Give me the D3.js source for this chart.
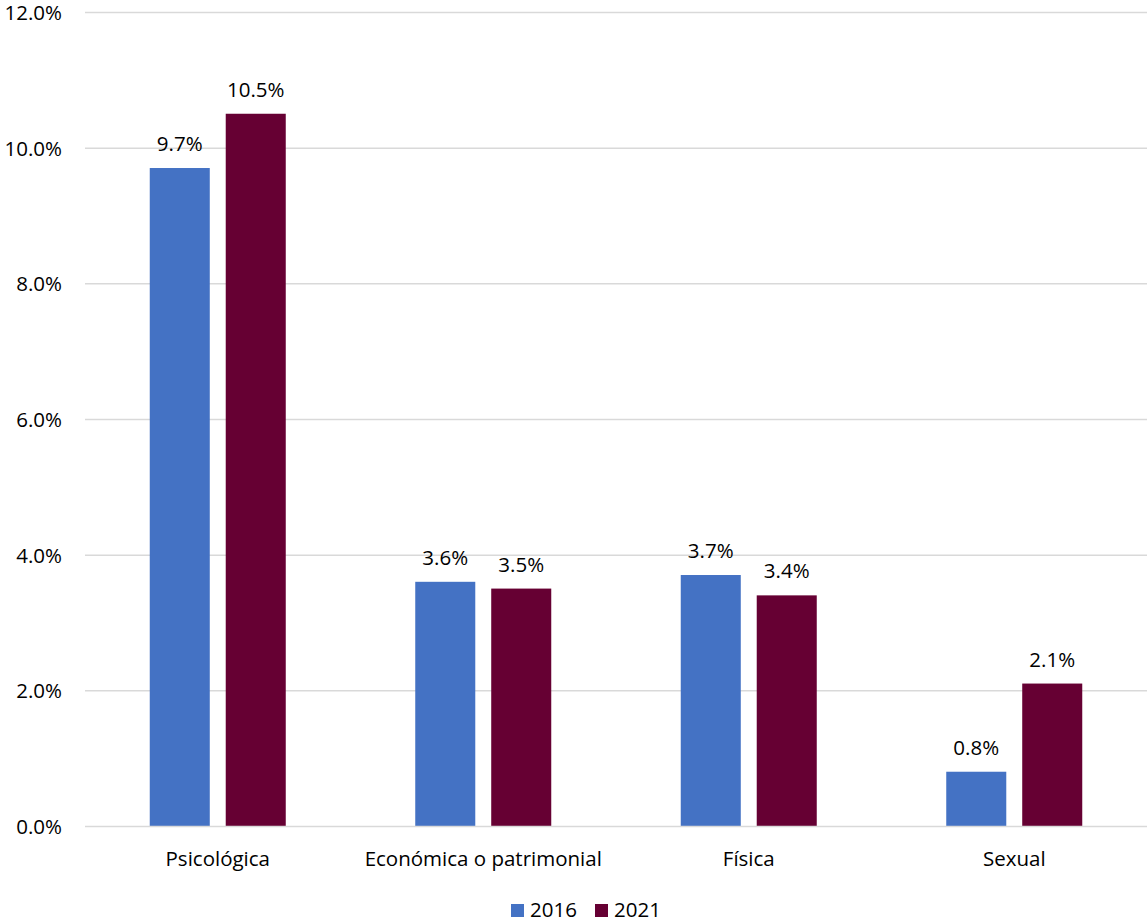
<!DOCTYPE html>
<html><head><meta charset="utf-8">
<script src="https://cdn.jsdelivr.net/npm/d3@7"></script>
<style>body{margin:0;background:#fff}svg{display:block}text{font-family:"Open Sans",Carlito,Lato,sans-serif;fill:#000}</style>
</head><body><svg id="c" width="1148" height="922"></svg>
<script>
const categories = ["Psicológica","Económica o patrimonial","Física","Sexual"];
const seriesNames = ["2016","2021"];
const values2016 = [9.7,3.6,3.7,0.8];
const values2021 = [10.5,3.5,3.4,2.1];
const yTicks = [0,2,4,6,8,10,12];
const colors = ["#4472C4","#660033"];

(function(){
const FONT = "'Open Sans',Carlito,Lato,sans-serif";
const FS = 20.5;
const svg = d3.select("#c");
const pLeft=85, pRight=1147, pTop=12, pBottom=826;
const y = d3.scaleLinear().domain([0,12]).range([pBottom,pTop]);
const x0 = d3.scaleBand().domain(categories).range([pLeft,pRight]).padding(0);
const bw = x0.bandwidth();
const x1 = d3.scaleBand().domain(seriesNames).range([(bw-136)/2,(bw+136)/2]).paddingInner(0.21).paddingOuter(0);

svg.append("g").selectAll("line").data(yTicks.filter(d=>d>0)).join("line")
  .attr("x1",pLeft).attr("x2",pRight).attr("y1",d=>y(d)+0.5).attr("y2",d=>y(d)+0.5)
  .attr("stroke","#d9d9d9").attr("stroke-width",1.5);

const yAxis = d3.axisLeft(y).tickValues(yTicks).tickFormat(d=>d3.format(".1f")(d)+"%").tickSize(0).tickPadding(0);
const ya = svg.append("g").attr("transform",`translate(62,0)`).call(yAxis);
ya.select(".domain").remove();
ya.selectAll("text").attr("font-size",FS).attr("font-family",FONT).attr("fill","#000").attr("dy","0.36em");

const data = categories.map((c,i)=>({cat:c, vals:[{s:"2016",v:values2016[i]},{s:"2021",v:values2021[i]}]}));
const g = svg.append("g").selectAll("g").data(data).join("g").attr("transform",d=>`translate(${x0(d.cat)},0)`);
g.selectAll("rect").data(d=>d.vals).join("rect")
  .attr("x",d=>x1(d.s)).attr("width",x1.bandwidth())
  .attr("y",d=>y(d.v)).attr("height",d=>y(0)-y(d.v))
  .attr("fill",(d,i)=>colors[i]);
g.selectAll("text.v").data(d=>d.vals).join("text").attr("class","v")
  .attr("x",d=>x1(d.s)+x1.bandwidth()/2).attr("y",d=>y(d.v)-17)
  .attr("text-anchor","middle").attr("font-size",FS)
  .text(d=>d3.format(".1f")(d.v)+"%");

svg.append("line").attr("x1",pLeft).attr("x2",pRight).attr("y1",pBottom+0.5).attr("y2",pBottom+0.5)
  .attr("stroke","#d9d9d9").attr("stroke-width",1.5);

const xAxis = d3.axisBottom(x0).tickSize(0).tickPadding(0);
const xa = svg.append("g").attr("transform",`translate(0,${pBottom})`).call(xAxis);
xa.select(".domain").remove();
xa.selectAll("text").attr("font-size",FS).attr("font-family",FONT).attr("fill","#000").attr("y",40).attr("dy","0");

const legX=[511,595];
const lg = svg.append("g").selectAll("g").data(seriesNames).join("g").attr("transform",(d,i)=>`translate(${legX[i]},904)`);
lg.append("rect").attr("width",13).attr("height",13).attr("fill",(d,i)=>colors[i]);
lg.append("text").attr("x",19).attr("y",13).attr("font-size",FS).text(d=>d);
})();
</script></body></html>
